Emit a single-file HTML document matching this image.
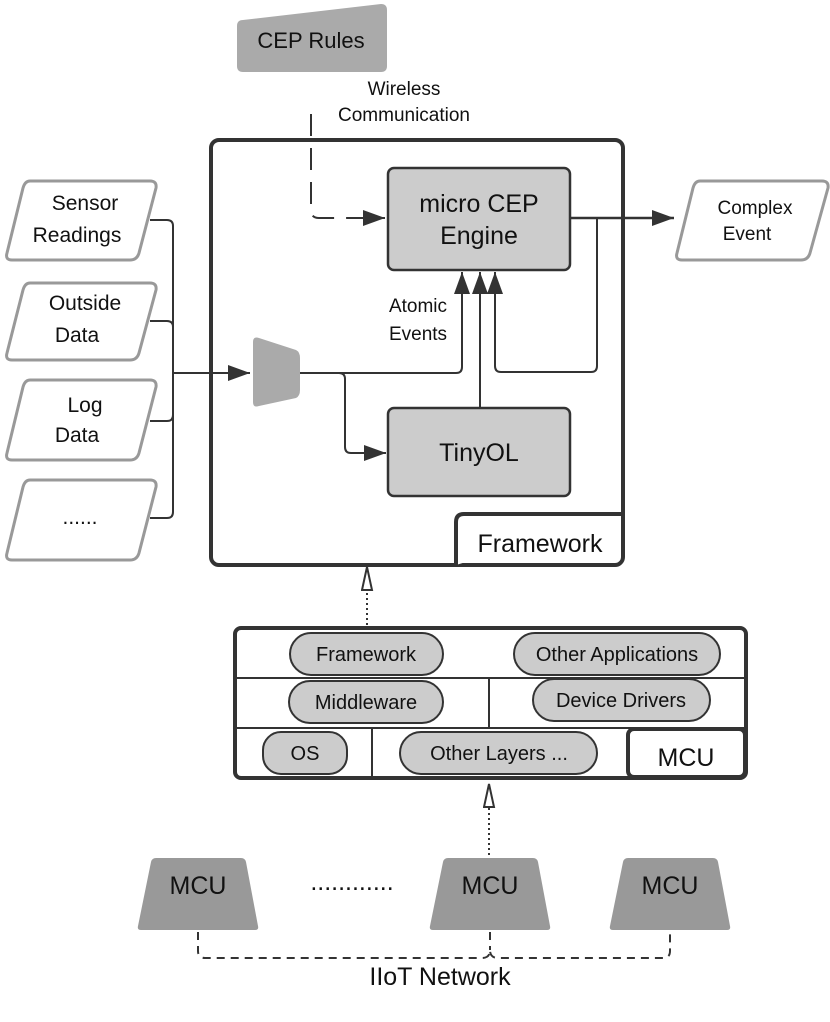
<!DOCTYPE html>
<html><head><meta charset="utf-8"><style>html,body{margin:0;padding:0;background:#fff}svg{display:block}text{font-family:"Liberation Sans",sans-serif;fill:#111}</style></head><body>
<svg width="830" height="1022" viewBox="0 0 830 1022" xmlns="http://www.w3.org/2000/svg">
<defs>
<marker id="a" markerWidth="12" markerHeight="12" refX="11" refY="6" orient="auto" markerUnits="userSpaceOnUse"><path d="M0,0 L12,6 L0,12 z" fill="#333"/></marker>
<marker id="b" markerWidth="26" markerHeight="26" refX="22" refY="8" orient="auto" markerUnits="userSpaceOnUse"><path d="M0,0 L22,8 L0,16 z" fill="#333"/></marker>
<marker id="o" markerWidth="28" markerHeight="16" refX="24" refY="6" orient="auto" markerUnits="userSpaceOnUse"><path d="M1,1 L24,6 L1,11 z" fill="#fff" stroke="#333" stroke-width="2"/></marker>
</defs>
<!-- CEP Rules -->
<path d="M243,20 L381,4 Q387,4 387,10 L387,66 Q387,72 381,72 L243,72 Q237,72 237,66 L237,26 Q237,20 243,20 z" fill="#aaa"/>
<text x="311" y="48" font-size="22" text-anchor="middle">CEP Rules</text>
<text x="404" y="95" font-size="19" text-anchor="middle">Wireless</text>
<text x="404" y="121" font-size="19" text-anchor="middle">Communication</text>
<path d="M311,114 L311,210 Q311,218 319,218 L385,218" fill="none" stroke="#333" stroke-width="2" stroke-dasharray="22,12" marker-end="url(#b)"/>
<!-- Framework box -->
<rect x="211" y="140" width="412" height="425" rx="8" fill="none" stroke="#333" stroke-width="4"/>
<path d="M456,565 L456,522 Q456,514 464,514 L623,514" fill="#fff" stroke="#333" stroke-width="4"/>
<text x="540" y="552" font-size="25" text-anchor="middle">Framework</text>
<!-- engine -->
<rect x="388" y="168" width="182" height="102" rx="6" fill="#ccc" stroke="#333" stroke-width="2.5"/>
<text x="479" y="212" font-size="25" text-anchor="middle">micro CEP</text>
<text x="479" y="244" font-size="25" text-anchor="middle">Engine</text>
<path d="M570,218 L674,218" stroke="#333" stroke-width="2.5" marker-end="url(#b)"/>
<path d="M597,218 L597,366 Q597,372 591,372 L501,372 Q495,372 495,366 L495,272" fill="none" stroke="#333" stroke-width="2" marker-end="url(#b)"/>
<path d="M480,408 L480,272" stroke="#333" stroke-width="2" marker-end="url(#b)"/>
<path d="M300,373 L456,373 Q462,373 462,367 L462,272" fill="none" stroke="#333" stroke-width="2" marker-end="url(#b)"/>
<path d="M339,373 Q345,373 345,379 L345,447 Q345,453 351,453 L386,453" fill="none" stroke="#333" stroke-width="2" marker-end="url(#b)"/>
<text x="418" y="312" font-size="19" text-anchor="middle">Atomic</text>
<text x="418" y="340" font-size="19" text-anchor="middle">Events</text>
<!-- Complex event -->
<path d="M700,181 L822,181 Q829,181 828,188 L810,253 Q808,260 801,260 L682,260 Q675,260 677,253 L693,188 Q695,181 700,181 z" fill="#fff" stroke="#999" stroke-width="3"/>
<text x="755" y="214" font-size="19" text-anchor="middle">Complex</text>
<text x="747" y="240" font-size="19" text-anchor="middle">Event</text>
<!-- inputs -->
<g fill="#fff" stroke="#999" stroke-width="3">
<path d="M30,181 L150,181 Q157,181 156,188 L139,253 Q137,260 130,260 L12,260 Q5,260 7,253 L23,188 Q25,181 30,181 z"/>
<path d="M30,283 L150,283 Q157,283 156,290 L139,353 Q137,360 130,360 L12,360 Q5,360 7,353 L23,290 Q25,283 30,283 z"/>
<path d="M30,380 L150,380 Q157,380 156,387 L139,453 Q137,460 130,460 L12,460 Q5,460 7,453 L23,387 Q25,380 30,380 z"/>
<path d="M30,480 L150,480 Q157,480 156,487 L139,553 Q137,560 130,560 L12,560 Q5,560 7,553 L23,487 Q25,480 30,480 z"/>
</g>
<text x="85" y="210" font-size="21" text-anchor="middle">Sensor</text>
<text x="77" y="242" font-size="21" text-anchor="middle">Readings</text>
<text x="85" y="310" font-size="21" text-anchor="middle">Outside</text>
<text x="77" y="342" font-size="21" text-anchor="middle">Data</text>
<text x="85" y="412" font-size="21" text-anchor="middle">Log</text>
<text x="77" y="442" font-size="21" text-anchor="middle">Data</text>
<text x="80" y="524" font-size="21" text-anchor="middle">......</text>
<g fill="none" stroke="#333" stroke-width="2">
<path d="M150,220 L167,220 Q173,220 173,226 L173,512 Q173,518 167,518 L150,518"/>
<path d="M150,321 L167,321 Q173,321 173,327"/>
<path d="M150,421 L167,421 Q173,421 173,415"/>
</g>
<path d="M173,373 L250,373" stroke="#333" stroke-width="2" marker-end="url(#b)"/>
<!-- mux -->
<path d="M253,342 Q253,336 259,338 L296,350 Q300,352 300,358 L300,390 Q300,396 296,398 L259,406 Q253,408 253,402 z" fill="#aaa"/>
<!-- TinyOL -->
<rect x="388" y="408" width="182" height="88" rx="6" fill="#ccc" stroke="#333" stroke-width="2.5"/>
<text x="479" y="461" font-size="25" text-anchor="middle">TinyOL</text>
<!-- dotted arrows -->
<path d="M367,630 L367,567" stroke="#333" stroke-width="2" stroke-dasharray="2,3" marker-end="url(#o)"/>
<path d="M489,855 L489,784" stroke="#333" stroke-width="2" stroke-dasharray="2,3" marker-end="url(#o)"/>
<!-- MCU stack -->
<rect x="235" y="628" width="511" height="150" rx="6" fill="#fff" stroke="#333" stroke-width="4"/>
<g stroke="#333" stroke-width="2"><line x1="235" y1="678" x2="746" y2="678"/><line x1="235" y1="728" x2="746" y2="728"/><line x1="489" y1="678" x2="489" y2="728"/><line x1="372" y1="728" x2="372" y2="778"/></g>
<rect x="628" y="729" width="117" height="48" rx="6" fill="#fff" stroke="#333" stroke-width="4"/>
<text x="686" y="766" font-size="25" text-anchor="middle">MCU</text>
<g fill="#ccc" stroke="#333" stroke-width="2">
<rect x="290" y="633" width="153" height="42" rx="21"/>
<rect x="514" y="633" width="206" height="42" rx="21"/>
<rect x="289" y="681" width="154" height="42" rx="21"/>
<rect x="533" y="679" width="177" height="42" rx="21"/>
<rect x="263" y="732" width="84" height="42" rx="18"/>
<rect x="400" y="732" width="197" height="42" rx="21"/>
</g>
<g font-size="20" text-anchor="middle">
<text x="366" y="661">Framework</text>
<text x="617" y="661">Other Applications</text>
<text x="366" y="709">Middleware</text>
<text x="621" y="707">Device Drivers</text>
<text x="305" y="760">OS</text>
<text x="499" y="760">Other Layers ...</text>
</g>
<!-- MCUs -->
<g fill="#999">
<path d="M156,858 L241,858 Q245,858 246,862 L258,926 Q259,930 255,930 L141,930 Q137,930 138,926 L151,862 Q152,858 156,858 z"/>
<path d="M448,858 L533,858 Q537,858 538,862 L550,926 Q551,930 547,930 L433,930 Q429,930 430,926 L443,862 Q444,858 448,858 z"/>
<path d="M628,858 L713,858 Q717,858 718,862 L730,926 Q731,930 727,930 L613,930 Q609,930 610,926 L623,862 Q624,858 628,858 z"/>
</g>
<g font-size="25" text-anchor="middle"><text x="198" y="894">MCU</text><text x="490" y="894">MCU</text><text x="670" y="894">MCU</text></g>
<text x="352" y="890" font-size="25" text-anchor="middle">............</text>
<path d="M198,932 L198,951 Q198,958 205,958 L482,958 Q490,958 490,950 Q490,958 498,958 L663,958 Q670,958 670,951 L670,932 M490,932 L490,950" fill="none" stroke="#333" stroke-width="2" stroke-dasharray="8,6"/>
<text x="440" y="985" font-size="25" text-anchor="middle">IIoT Network</text>
</svg>
</body></html>
